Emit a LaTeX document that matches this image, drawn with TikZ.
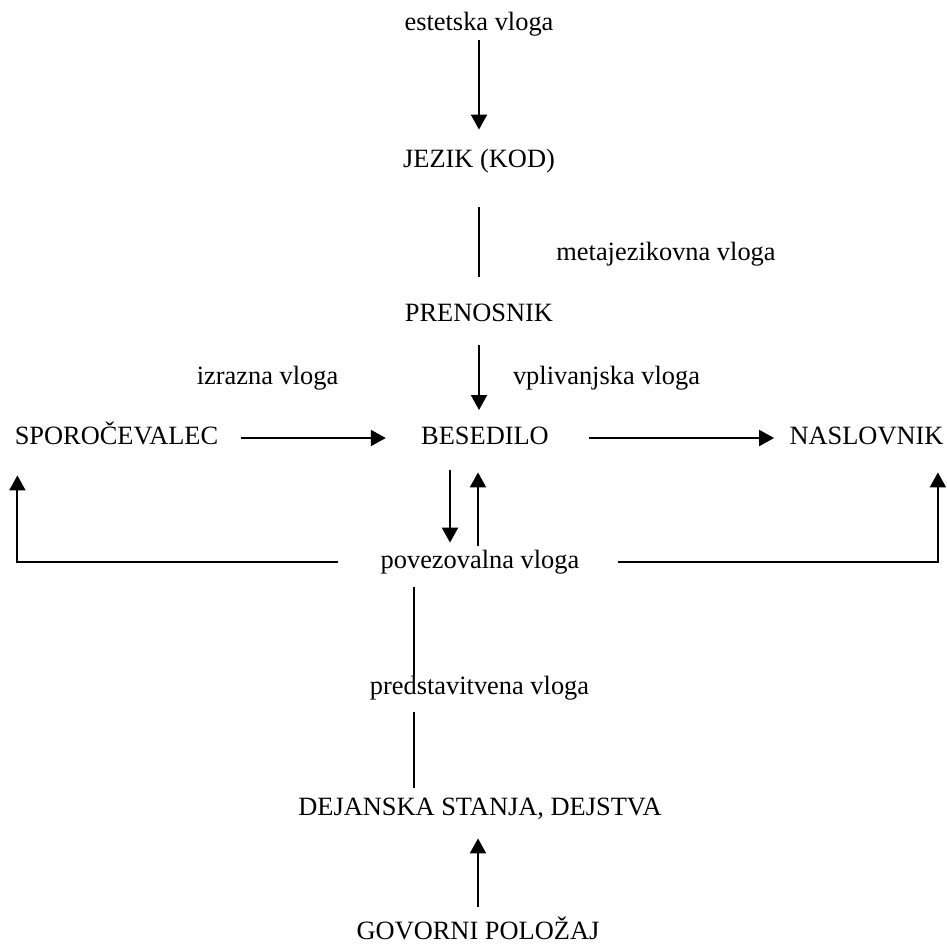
\documentclass[tikz,border=0pt]{standalone}
\usepackage{fontspec}
\setmainfont{Liberation Serif}
\usetikzlibrary{arrows.meta}

\begin{document}
\begin{tikzpicture}[x=0.5pt,y=-0.5pt,
  lbl/.style={inner sep=0pt,text height=9pt,text depth=3pt,
    font=\fontsize{13.2}{16}\selectfont},
  ln/.style={line width=1pt},
  arr/.style={line width=1pt,-{Triangle[length=7.5pt,width=8pt]}}]
\useasboundingbox (0,0) rectangle (947,944);

\node[lbl] (estetska) at (479,24) {estetska vloga};
\node[lbl] (jezik) at (479,161) {JEZIK (KOD)};
\node[lbl] (metajez) at (666,254) {metajezikovna vloga};
\node[lbl] (prenosnik) at (479,315) {PRENOSNIK};
\node[lbl] (izrazna) at (267.5,378) {izrazna vloga};
\node[lbl] (vplivanjska) at (606.5,378) {vplivanjska vloga};
\node[lbl] (sporoc) at (116.5,438) {SPOROČEVALEC};
\node[lbl] (besedilo) at (485,438) {BESEDILO};
\node[lbl] (naslovnik) at (866.5,438) {NASLOVNIK};
\node[lbl] (povez) at (480,562) {povezovalna vloga};
\node[lbl] (predst) at (479.5,688) {predstavitvena vloga};
\node[lbl] (dejanska) at (480,809) {DEJANSKA STANJA, DEJSTVA};
\node[lbl] (govorni) at (478,933) {GOVORNI POLOŽAJ};

% zgornji del
\draw[arr,shorten <=2pt,shorten >=9.5pt] (estetska) -- (jezik);
\draw[ln,shorten <=17pt,shorten >=13pt] (jezik) -- (prenosnik);
\draw[arr,shorten <=9pt,shorten >=14pt] (prenosnik) -- (prenosnik |- besedilo);

% vodoravno
\draw[arr,shorten <=11pt,shorten >=17.5pt] (sporoc) -- (besedilo);
\draw[arr,shorten <=20pt,shorten >=7.5pt] (besedilo) -- (naslovnik);

% besedilo -- povezovalna vloga
\draw[arr,shorten <=10pt,shorten >=3.5pt]
  ([xshift=-17.5pt]besedilo.south) -- ([xshift=-15pt]povez.north);
\draw[arr,shorten <=2pt,shorten >=11pt]
  ([xshift=-1pt]povez.north) -- ([xshift=-3.5pt]besedilo.south);
\draw[arr,shorten <=21pt,shorten >=12.5pt]
  (povez.west) -| ([xshift=1.5pt]sporoc.south west);
\draw[arr,shorten <=19pt,shorten >=11pt]
  (povez.east) -| ([xshift=-3pt]naslovnik.south east);

% spodnji del
\draw[ln,shorten <=6.5pt]
  ([xshift=-33pt]povez.south) -- ([xshift=-32.75pt]predst.north);
\draw[ln,shorten <=6pt,shorten >=4.5pt]
  ([xshift=-32.75pt]predst.south) -- ([xshift=-33pt]dejanska.north);
\draw[arr,shorten <=7pt,shorten >=8.5pt]
  (govorni.north) -- ([xshift=-1pt]dejanska.south);
\end{tikzpicture}
\end{document}
